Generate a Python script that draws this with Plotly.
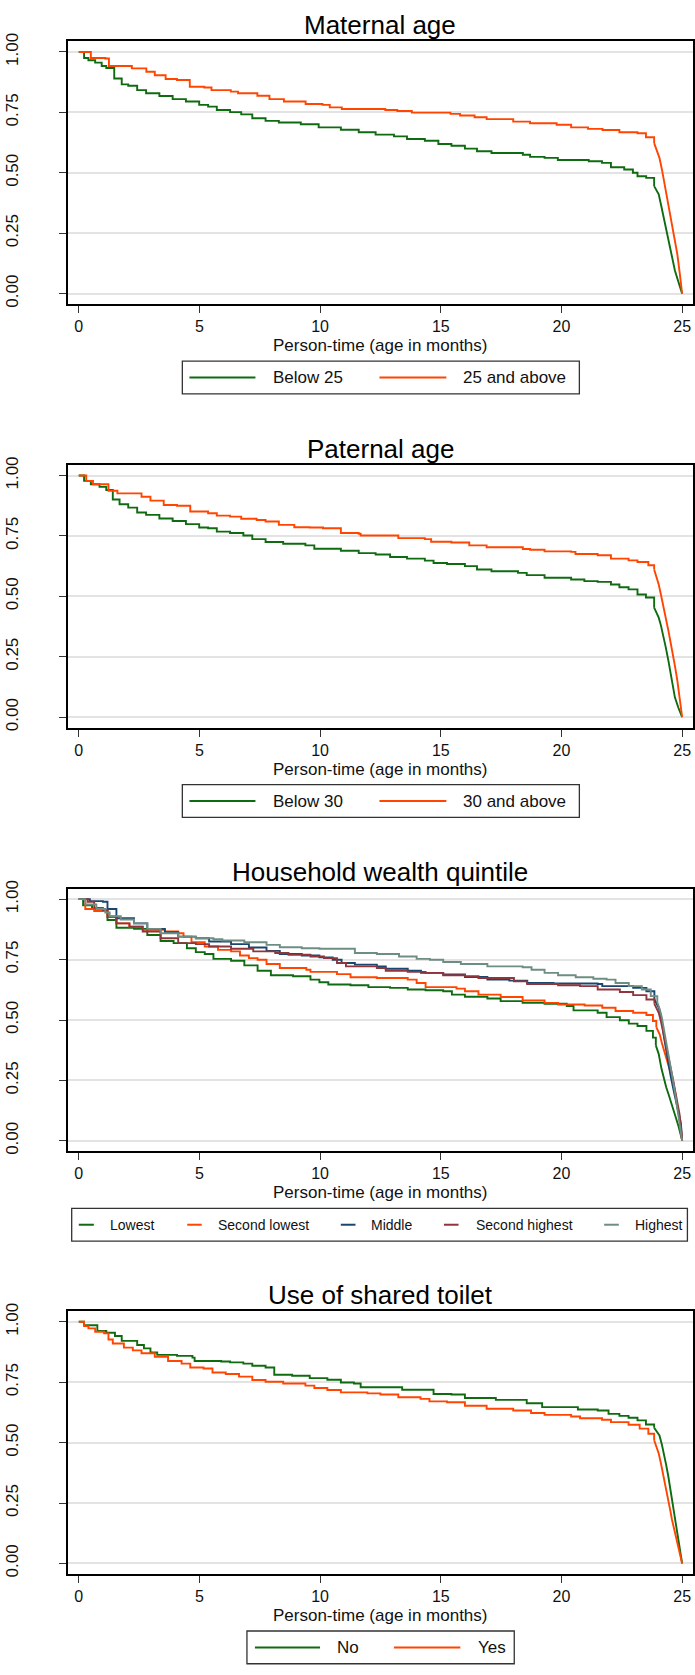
import plotly.graph_objects as go

# ---------------------------------------------------------------
# Kaplan-Meier survival estimates (time in months, survival prob.)
# ---------------------------------------------------------------

# Maternal age
maternal_below25_t = [0, 0.22, 0.4, 0.68, 0.95, 1.14, 1.47, 1.78, 2.05, 2.42, 2.79, 3.34, 3.89, 4.44, 4.99,
                      5.36, 5.72, 6.27, 6.73, 7.19, 7.74, 8.29, 9.2, 9.94, 10.86, 11.6, 12.3, 13.06, 13.6,
                      14.34, 14.9, 15.44, 16.0, 16.5, 17.1, 18.4, 18.7, 19.3, 19.85, 21.13, 21.68, 22.05,
                      22.6, 22.96, 23.15, 23.51, 23.84, 24.03, 24.12, 24.21, 24.32, 24.43, 24.56, 24.7,
                      24.84, 24.98, 25.0]
maternal_below25_s = [1.0, 0.975, 0.966, 0.956, 0.942, 0.934, 0.890, 0.866, 0.860, 0.842, 0.829, 0.818, 0.805,
                      0.795, 0.781, 0.774, 0.760, 0.751, 0.742, 0.726, 0.715, 0.708, 0.701, 0.688, 0.678, 0.668,
                      0.658, 0.651, 0.640, 0.633, 0.619, 0.612, 0.600, 0.589, 0.582, 0.575, 0.566, 0.562, 0.553,
                      0.548, 0.541, 0.523, 0.514, 0.500, 0.486, 0.479, 0.445, 0.411, 0.370, 0.329, 0.275, 0.219,
                      0.160, 0.096, 0.050, 0.007, 0.0]

maternal_25plus_t = [0, 0.5, 1.1, 1.25, 2.2, 2.8, 3.15, 3.6, 4.07, 4.6, 5.2, 5.5, 6.3, 6.6, 7.4, 7.9, 8.5, 9.4,
                     10.1, 10.4, 10.9, 12.7, 13.2, 13.8, 15.4, 15.8, 16.4, 16.9, 18.0, 18.7, 19.8, 20.4, 21.1,
                     21.7, 22.4, 23.15, 23.5, 23.84, 23.95, 24.06, 24.16, 24.25, 24.34, 24.43, 24.52, 24.6,
                     24.7, 24.8, 24.9, 25.0]
maternal_25plus_s = [1.0, 0.975, 0.973, 0.942, 0.932, 0.918, 0.904, 0.888, 0.884, 0.856, 0.853, 0.842, 0.836,
                     0.829, 0.819, 0.805, 0.795, 0.785, 0.781, 0.771, 0.764, 0.760, 0.756, 0.749, 0.744, 0.737,
                     0.730, 0.722, 0.712, 0.705, 0.699, 0.688, 0.682, 0.677, 0.668, 0.664, 0.647, 0.623, 0.595,
                     0.562, 0.515, 0.466, 0.418, 0.370, 0.330, 0.288, 0.225, 0.164, 0.085, 0.0]

# Paternal age
paternal_below30_t = [0, 0.22, 0.5, 0.86, 1.14, 1.41, 1.69, 2.05, 2.42, 2.79, 3.34, 3.89, 4.44, 4.99, 5.36,
                      5.72, 6.27, 6.82, 7.19, 7.74, 8.47, 9.39, 9.76, 10.86, 11.6, 12.3, 12.9, 13.6, 14.34,
                      14.7, 15.26, 16.0, 16.5, 17.1, 18.2, 18.56, 19.3, 20.4, 20.95, 21.5, 22.05, 22.4, 22.78,
                      23.15, 23.5, 23.84, 24.03, 24.12, 24.21, 24.32, 24.43, 24.56, 24.7, 24.84, 24.98, 25.0]
paternal_below30_s = [1.0, 0.978, 0.964, 0.953, 0.940, 0.901, 0.881, 0.867, 0.847, 0.837, 0.822, 0.812, 0.799,
                      0.785, 0.782, 0.768, 0.762, 0.752, 0.737, 0.725, 0.718, 0.711, 0.697, 0.689, 0.679, 0.673,
                      0.663, 0.656, 0.648, 0.638, 0.634, 0.625, 0.611, 0.604, 0.597, 0.588, 0.577, 0.570, 0.563,
                      0.560, 0.549, 0.538, 0.529, 0.508, 0.495, 0.453, 0.412, 0.380, 0.344, 0.290, 0.234, 0.160,
                      0.082, 0.040, 0.008, 0.0]

paternal_30plus_t = [0, 0.31, 0.59, 1.05, 1.23, 1.6, 2.24, 2.6, 2.97, 3.52, 4.07, 4.62, 5.36, 5.72, 6.27, 6.73,
                     7.37, 7.74, 8.29, 8.93, 9.57, 10.12, 10.86, 11.6, 11.68, 13.06, 13.24, 14.34, 14.6, 15.44,
                     16.18, 16.9, 18.4, 18.7, 19.3, 20.4, 20.58, 21.5, 22.05, 22.78, 23.15, 23.6, 23.84, 23.94,
                     24.03, 24.12, 24.21, 24.32, 24.43, 24.52, 24.62, 24.71, 24.8, 24.9, 25.0]
paternal_30plus_s = [1.0, 0.978, 0.964, 0.964, 0.937, 0.926, 0.926, 0.912, 0.896, 0.878, 0.875, 0.851, 0.844,
                     0.834, 0.830, 0.821, 0.816, 0.810, 0.796, 0.786, 0.785, 0.782, 0.762, 0.759, 0.752, 0.752,
                     0.741, 0.737, 0.726, 0.723, 0.711, 0.703, 0.696, 0.693, 0.686, 0.684, 0.675, 0.670, 0.656,
                     0.649, 0.642, 0.629, 0.611, 0.580, 0.549, 0.508, 0.467, 0.412, 0.358, 0.310, 0.262, 0.207,
                     0.152, 0.080, 0.0]

# Household wealth quintile
wealth_lowest_t = [0, 0.18, 0.55, 1.0, 1.19, 1.56, 2.29, 2.84, 3.39, 3.93, 4.48, 4.85, 5.22, 5.58, 6.31, 6.86,
                   7.41, 7.96, 8.88, 9.6, 9.97, 10.34, 11.26, 12.0, 12.9, 13.63, 14.37, 15.1, 15.46, 16.0,
                   16.93, 17.48, 18.39, 19.3, 20.22, 20.5, 21.5, 21.87, 22.42, 22.79, 23.15, 23.52, 23.79,
                   23.91, 24.03, 24.14, 24.25, 24.34, 24.43, 24.52, 24.62, 24.71, 24.85, 24.98, 25.0]
wealth_lowest_s = [1.0, 0.975, 0.959, 0.951, 0.914, 0.882, 0.877, 0.852, 0.827, 0.818, 0.797, 0.781, 0.773,
                   0.753, 0.745, 0.726, 0.704, 0.685, 0.681, 0.667, 0.656, 0.647, 0.644, 0.636, 0.633, 0.626,
                   0.623, 0.619, 0.605, 0.596, 0.589, 0.578, 0.571, 0.567, 0.558, 0.540, 0.530, 0.512, 0.499,
                   0.485, 0.475, 0.455, 0.427, 0.395, 0.359, 0.300, 0.249, 0.222, 0.195, 0.167, 0.140, 0.112,
                   0.060, 0.010, 0.0]

wealth_second_lowest_t = [0, 0.27, 0.64, 1.0, 1.19, 1.56, 2.1, 2.65, 3.57, 4.12, 4.34, 4.67, 5.22, 5.77, 6.31,
                          6.68, 7.05, 7.41, 7.78, 8.33, 9.43, 9.6, 10.7, 11.26, 12.35, 13.63, 14.0, 14.37,
                          15.65, 16.0, 16.56, 17.48, 18.39, 19.3, 19.86, 20.96, 21.69, 22.24, 22.97, 23.52,
                          23.79, 23.93, 24.07, 24.16, 24.25, 24.34, 24.43, 24.52, 24.62, 24.71, 24.8, 24.9,
                          24.98, 25.0]
wealth_second_lowest_s = [1.0, 0.959, 0.951, 0.951, 0.927, 0.900, 0.886, 0.873, 0.866, 0.859, 0.845, 0.822,
                          0.804, 0.790, 0.784, 0.767, 0.756, 0.749, 0.732, 0.715, 0.708, 0.699, 0.690, 0.677,
                          0.674, 0.667, 0.653, 0.636, 0.630, 0.619, 0.605, 0.595, 0.581, 0.571, 0.564, 0.560,
                          0.551, 0.537, 0.530, 0.521, 0.496, 0.470, 0.441, 0.405, 0.373, 0.345, 0.318, 0.285,
                          0.249, 0.200, 0.153, 0.085, 0.016, 0.0]

wealth_middle_t = [0, 0.46, 1.0, 1.19, 1.56, 2.29, 2.84, 3.57, 4.12, 4.85, 5.4, 6.31, 7.05, 7.78, 8.33, 9.24,
                   9.97, 10.52, 10.89, 11.44, 12.35, 12.72, 13.63, 14.18, 15.1, 16.0, 16.93, 17.84, 18.58,
                   19.67, 21.5, 21.69, 22.97, 23.52, 23.85, 23.94, 24.03, 24.1, 24.16, 24.25, 24.34, 24.43,
                   24.52, 24.62, 24.71, 24.8, 24.88, 24.95, 25.0]
wealth_middle_s = [1.0, 0.992, 0.989, 0.959, 0.921, 0.900, 0.877, 0.863, 0.845, 0.838, 0.825, 0.814, 0.800,
                   0.786, 0.773, 0.767, 0.759, 0.749, 0.736, 0.729, 0.722, 0.712, 0.704, 0.695, 0.688, 0.678,
                   0.667, 0.663, 0.653, 0.651, 0.649, 0.640, 0.633, 0.619, 0.585, 0.568, 0.551, 0.525, 0.496,
                   0.427, 0.372, 0.318, 0.270, 0.222, 0.180, 0.140, 0.105, 0.071, 0.0]

wealth_second_highest_t = [0, 0.37, 0.64, 1.0, 1.19, 1.56, 2.1, 2.65, 3.39, 4.12, 4.85, 5.4, 6.31, 7.23, 8.14,
                           8.69, 9.6, 10.16, 10.7, 11.07, 12.35, 12.72, 13.63, 14.37, 15.1, 16.0, 16.56, 17.84,
                           18.03, 18.58, 19.86, 20.77, 21.5, 22.42, 22.97, 23.52, 23.85, 23.94, 24.03, 24.12,
                           24.21, 24.28, 24.34, 24.43, 24.52, 24.62, 24.71, 24.8, 24.89, 24.95, 25.0]
wealth_second_highest_s = [1.0, 0.989, 0.964, 0.955, 0.927, 0.900, 0.886, 0.866, 0.838, 0.818, 0.814, 0.804,
                           0.795, 0.784, 0.777, 0.770, 0.763, 0.756, 0.736, 0.722, 0.715, 0.704, 0.699, 0.695,
                           0.685, 0.681, 0.674, 0.674, 0.660, 0.649, 0.644, 0.640, 0.626, 0.616, 0.603, 0.585,
                           0.567, 0.550, 0.530, 0.495, 0.455, 0.420, 0.386, 0.345, 0.304, 0.255, 0.208, 0.160,
                           0.112, 0.060, 0.0]

wealth_highest_t = [0, 0.27, 0.73, 1.1, 1.28, 1.74, 2.29, 2.84, 3.39, 4.12, 4.85, 5.58, 5.95, 6.86, 7.78, 8.33,
                    9.24, 9.97, 11.44, 12.35, 13.27, 14.0, 14.55, 15.1, 15.83, 16.93, 18.39, 18.76, 19.3,
                    19.86, 20.59, 21.32, 21.87, 22.24, 22.79, 23.33, 23.7, 23.97, 24.07, 24.16, 24.25, 24.34,
                    24.43, 24.52, 24.62, 24.71, 24.8, 24.89, 24.95, 25.0]
wealth_highest_s = [1.0, 0.978, 0.959, 0.945, 0.930, 0.916, 0.900, 0.877, 0.859, 0.845, 0.838, 0.834, 0.829,
                    0.822, 0.811, 0.801, 0.797, 0.795, 0.777, 0.773, 0.763, 0.753, 0.749, 0.740, 0.732, 0.722,
                    0.718, 0.708, 0.695, 0.685, 0.677, 0.671, 0.667, 0.653, 0.640, 0.626, 0.599, 0.573, 0.545,
                    0.510, 0.462, 0.414, 0.360, 0.304, 0.250, 0.195, 0.140, 0.085, 0.045, 0.0]

# Use of shared toilet
toilet_no_t = [0, 0.22, 0.77, 1.14, 1.5, 1.78, 2.42, 2.7, 2.97, 3.25, 4.07, 4.71, 4.8, 5.9, 6.27, 6.82, 7.19,
               7.74, 8.1, 8.84, 9.57, 10.3, 10.86, 11.4, 11.68, 13.4, 14.7, 15.44, 16.0, 17.28, 18.56, 19.2,
               20.68, 21.5, 21.95, 22.4, 22.78, 23.15, 23.5, 23.84, 24.06, 24.16, 24.25, 24.34, 24.43, 24.52,
               24.62, 24.71, 24.8, 24.9, 24.98, 25.0]
toilet_no_s = [1.0, 0.986, 0.962, 0.955, 0.941, 0.921, 0.904, 0.890, 0.873, 0.863, 0.859, 0.852, 0.838, 0.836,
               0.832, 0.827, 0.818, 0.811, 0.781, 0.777, 0.767, 0.760, 0.749, 0.745, 0.729, 0.719, 0.701,
               0.699, 0.685, 0.677, 0.663, 0.647, 0.637, 0.633, 0.619, 0.611, 0.603, 0.592, 0.575, 0.562,
               0.530, 0.492, 0.455, 0.407, 0.359, 0.304, 0.249, 0.195, 0.140, 0.080, 0.030, 0.0]

toilet_yes_t = [0, 0.22, 0.4, 0.68, 1.05, 1.23, 1.41, 1.87, 2.24, 2.6, 3.15, 3.7, 4.26, 4.62, 5.17, 5.54, 6.09,
                6.64, 7.19, 7.74, 8.47, 9.39, 9.76, 10.3, 10.86, 11.96, 12.5, 13.24, 14.16, 14.53, 15.26,
                16.0, 16.9, 18.0, 18.74, 19.3, 20.4, 20.77, 21.68, 22.05, 22.78, 23.24, 23.6, 23.84, 23.94,
                24.03, 24.12, 24.21, 24.3, 24.4, 24.49, 24.58, 24.69, 24.8, 24.9, 25.0]
toilet_yes_s = [1.0, 0.982, 0.973, 0.959, 0.952, 0.927, 0.910, 0.893, 0.882, 0.870, 0.855, 0.838, 0.827, 0.811,
                0.807, 0.790, 0.784, 0.773, 0.759, 0.752, 0.745, 0.736, 0.726, 0.718, 0.708, 0.704, 0.699,
                0.688, 0.681, 0.671, 0.667, 0.653, 0.640, 0.633, 0.623, 0.615, 0.608, 0.601, 0.595, 0.585,
                0.574, 0.558, 0.537, 0.510, 0.485, 0.455, 0.415, 0.373, 0.325, 0.277, 0.229, 0.181, 0.130,
                0.085, 0.040, 0.0]

# Axis tick values / labels
x_ticks = [0, 5, 10, 15, 20, 25]
y_ticks = [0.0, 0.25, 0.5, 0.75, 1.0]
y_tick_labels = ["0.00", "0.25", "0.50", "0.75", "1.00"]

panel_titles = ["Maternal age", "Paternal age", "Household wealth quintile", "Use of shared toilet"]
x_title = "Person-time (age in months)"

GREEN = "#0F6B10"
ORANGE = "#FF4500"
NAVY = "#1A476F"
MAROON = "#90353B"
TEAL = "#6E8E84"

panels = [
    [("Below 25", maternal_below25_t, maternal_below25_s, GREEN),
     ("25 and above", maternal_25plus_t, maternal_25plus_s, ORANGE)],
    [("Below 30", paternal_below30_t, paternal_below30_s, GREEN),
     ("30 and above", paternal_30plus_t, paternal_30plus_s, ORANGE)],
    [("Lowest", wealth_lowest_t, wealth_lowest_s, GREEN),
     ("Second lowest", wealth_second_lowest_t, wealth_second_lowest_s, ORANGE),
     ("Middle", wealth_middle_t, wealth_middle_s, NAVY),
     ("Second highest", wealth_second_highest_t, wealth_second_highest_s, MAROON),
     ("Highest", wealth_highest_t, wealth_highest_s, TEAL)],
    [("No", toilet_no_t, toilet_no_s, GREEN),
     ("Yes", toilet_yes_t, toilet_yes_s, ORANGE)],
]

# Legend layout per panel: box extent (px), sample lines (px) and label starts (px), font size
legend_specs = [
    dict(box=(182.6, 580.2), lines=[(189.7, 255.8), (380.0, 447.0)], text=[271.0, 462.0], size=17),
    dict(box=(182.6, 580.2), lines=[(189.7, 255.8), (380.0, 447.0)], text=[271.0, 462.0], size=17),
    dict(box=(71.8, 688.4), lines=[(78.9, 94.0), (187.5, 202.0), (341.3, 356.0), (444.6, 459.2), (605.0, 619.7)],
         text=[108.6, 216.3, 370.0, 474.3, 633.9], size=14),
    dict(box=(247.3, 515.0), lines=[(255.3, 320.5), (394.5, 461.0)], text=[335.5, 476.5], size=17),
]

W, H = 695, 1675
FONT = "Liberation Sans, Arial, Helvetica, sans-serif"
BOX_LEFT, BOX_RIGHT = 68.0, 694.0
BOX_H = 264.6
BOX_TOPS = [32.7, 459.3, 886.0, 1311.7]
TAIL_START = 23.8   # beyond this the many closely spaced events read as a continuous drop


def px(x):
    return x / W


def py(y):
    return 1 - y / H


fig = go.Figure()
shapes = []
annotations = []

for i, series in enumerate(panels):
    n = i + 1
    xa = "x" if n == 1 else f"x{n}"
    ya = "y" if n == 1 else f"y{n}"
    top = BOX_TOPS[i]
    bottom = top + BOX_H

    for name, t, s, color in series:
        k = next(j for j, v in enumerate(t) if v >= TAIL_START)
        fig.add_trace(go.Scatter(
            x=t[:k + 1], y=s[:k + 1], mode="lines", name=name,
            line=dict(color=color, width=1.9, shape="hv"),
            xaxis=xa, yaxis=ya, showlegend=False, hoverinfo="skip"))
        fig.add_trace(go.Scatter(
            x=t[k:], y=s[k:], mode="lines", name=name,
            line=dict(color=color, width=1.9, shape="linear"),
            xaxis=xa, yaxis=ya, showlegend=False, hoverinfo="skip"))

    axis_common = dict(showline=True, linecolor="#000000", linewidth=1.6, mirror=True,
                       ticks="outside", ticklen=7, tickwidth=1, tickcolor="#333333", zeroline=False)
    fig.layout[f"xaxis{'' if n == 1 else n}"] = dict(
        domain=[px(BOX_LEFT), px(BOX_RIGHT)], anchor=ya, range=[-0.45, 25.45],
        tickvals=x_ticks, showgrid=False, ticklabelstandoff=0,
        tickfont=dict(family=FONT, size=16, color="#111111"), **axis_common)
    fig.layout[f"yaxis{'' if n == 1 else n}"] = dict(
        domain=[py(bottom), py(top)], anchor=xa, range=[-0.0435, 1.0435],
        tickvals=y_ticks, ticktext=y_tick_labels, tickangle=-90, ticklabelstandoff=34,
        tickfont=dict(family=FONT, size=17, color="#111111"),
        showgrid=True, gridcolor="#E3E3E3", gridwidth=1.6, **axis_common)

    # panel title and x-axis title
    annotations.append(dict(text=panel_titles[i], x=px((BOX_LEFT + BOX_RIGHT) / 2), y=py(top - 16.5),
                            xref="paper", yref="paper", xanchor="center", yanchor="middle", showarrow=False,
                            font=dict(family=FONT, size=26, color="#000000")))
    annotations.append(dict(text=x_title, x=px((BOX_LEFT + BOX_RIGHT) / 2), y=py(top + 306.5),
                            xref="paper", yref="paper", xanchor="center", yanchor="middle", showarrow=False,
                            borderpad=0, font=dict(family=FONT, size=17, color="#111111")))

    # legend box below each panel
    spec = legend_specs[i]
    lt, lb = top + 322, top + 355
    lc = (lt + lb) / 2
    shapes.append(dict(type="rect", xref="paper", yref="paper", x0=px(spec["box"][0]), x1=px(spec["box"][1]),
                       y0=py(lb), y1=py(lt), line=dict(color="#333333", width=1.3), fillcolor="white"))
    for (x0, x1), tx, (name, _, _, color) in zip(spec["lines"], spec["text"], series):
        shapes.append(dict(type="line", xref="paper", yref="paper", x0=px(x0), x1=px(x1), y0=py(lc), y1=py(lc),
                           line=dict(color=color, width=2)))
        annotations.append(dict(text=name, x=px(tx), y=py(lc), xref="paper", yref="paper", xanchor="left",
                                yanchor="middle", showarrow=False,
                                font=dict(family=FONT, size=spec["size"], color="#111111")))

fig.update_layout(width=W, height=H, margin=dict(l=0, r=0, t=0, b=0), paper_bgcolor="white",
                  plot_bgcolor="white", shapes=shapes, annotations=annotations, showlegend=False)

fig.write_html("out.html")
